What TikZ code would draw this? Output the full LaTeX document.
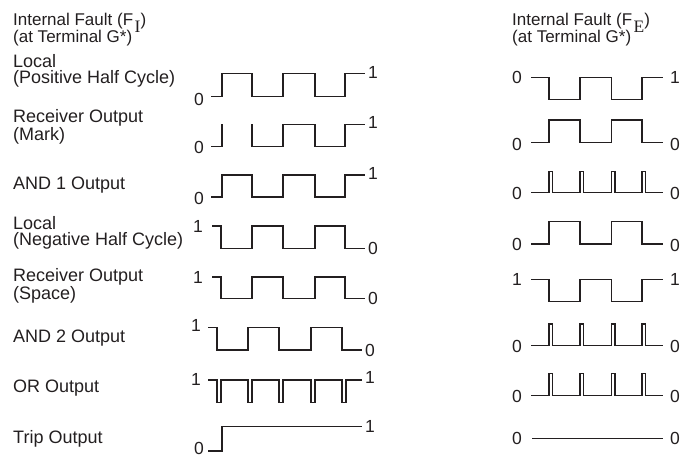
\documentclass[tikz,border=0pt]{standalone}
\usepackage{fontspec}
\setmainfont{Liberation Sans}
\newfontfamily\subserif{Liberation Serif}
\usetikzlibrary{positioning}
\definecolor{wInk}{HTML}{231F20}
\newcommand{\faultsub}[1]{\kern1.5pt\raisebox{-6.5pt}[0pt][0pt]{\subserif\fontsize{17.5}{17.5}\selectfont #1}}

\begin{document}
\begin{tikzpicture}[x=1pt, y=-1pt,
    wave/.style={draw=wInk, line width=1.4pt},
    headtext/.style={anchor=north west, align=left, inner sep=0pt, text=wInk, font=\fontsize{17}{16.5}\selectfont},
    rowtext/.style={anchor=north west, align=left, inner sep=0pt, text=wInk, font=\fontsize{18}{16.5}\selectfont},
    lvl/.style={inner sep=0pt, text=wInk, font=\fontsize{17.5}{17.5}\selectfont}]
  \useasboundingbox (0,0) rectangle (683,458);

  % headings
  \node[headtext] (headInt) at (13,13) {Internal Fault (F\faultsub{I})\\(at Terminal G*)};
  \node[headtext] (headExt) at (512,13) {Internal Fault (F\faultsub{E})\\(at Terminal G*)};

  % signal names
  \node[rowtext] (lblLocalPos) at (13,54) {Local\\(Positive Half Cycle)};
  \node[rowtext] (lblMark) at (13,109.5) {Receiver Output\\(Mark)};
  \node[rowtext] (lblAndOne) at (13,177) {AND 1 Output};
  \node[rowtext] (lblLocalNeg) at (13,216) {Local\\(Negative Half Cycle)};
  \node[rowtext] (lblSpace) at (13,268) {Receiver Output\\(Space)};
  \node[rowtext] (lblAndTwo) at (13,329.5) {AND 2 Output};
  \node[rowtext] (lblOr) at (13,379.5) {OR Output};
  \node[rowtext] (lblTrip) at (13,430.5) {Trip Output};

  % internal fault waveforms
  \draw[wave] (211,96.5) -| (222,73.5) -| (252,96.5) -| (283,73.5) -| (315,96.5) -| (345,73.5) -- (365,73.5);
  \draw[wave] (211,146.5) -| (222,124.3);
  \draw[wave] (252,124.3) -- (252,146.5) -| (283,124.3) -| (315,146.5) -| (345,124.3) -- (365,124.3);
  \draw[wave] (211,197) -| (222,175) -| (252,197) -| (283,175) -| (315,197) -| (345,175) -- (365,175);
  \draw[wave] (212,226) -| (221,248.3) -| (252,226) -| (283,248.3) -| (315,226) -| (345,248.3) -- (365,248.3);
  \draw[wave] (212,277) -| (221,298.5) -| (252,277) -| (283,298.5) -| (315,277) -| (345,298.5) -- (365,298.5);
  \draw[wave] (208,327.3) -| (217,350) -| (248,327.3) -| (279,350) -| (311,327.3) -| (342,350) -- (362,350);
  \draw[wave] (208,380) foreach \x in {217,248,279,311,342} {
      -- (\x,380) -- (\x,402.7) -- ({\x+4},402.7) -- ({\x+4},380)} -- (362,380);
  \draw[wave] (208,451) -| (222,426.7) -- (362,426.7);

  % internal fault levels
  \node[lvl, anchor=east] (inA0) at (204,99.5) {0};
  \node[lvl, anchor=west] (inA1) at (368,72) {1};
  \node[lvl, anchor=east] (inB0) at (204,147.5) {0};
  \node[lvl, anchor=west] (inB1) at (368,122) {1};
  \node[lvl, anchor=east] (inC0) at (204,198.5) {0};
  \node[lvl, anchor=west] (inC1) at (368,173) {1};
  \node[lvl, anchor=east] (inD1) at (203,226.5) {1};
  \node[lvl, anchor=west] (inD0) at (368,248) {0};
  \node[lvl, anchor=east] (inE1) at (203,277) {1};
  \node[lvl, anchor=west] (inE0) at (368,298.5) {0};
  \node[lvl, anchor=east] (inF1) at (201,325) {1};
  \node[lvl, anchor=west] (inF0) at (365,350) {0};
  \node[lvl, anchor=east] (inG1) at (201,379) {1};
  \node[lvl, anchor=west] (inG1r) at (365,377) {1};
  \node[lvl, anchor=east] (inH0) at (204,448.5) {0};
  \node[lvl, anchor=west] (inH1) at (365,426) {1};

  % external fault waveforms
  \draw[wave] (531,77.3) -| (549,99.3) -| (580,77.3) -| (611.5,99.3) -| (642,77.3) -- (663,77.3);
  \draw[wave] (531,142.7) -| (549,120) -| (580,142.7) -| (611.5,120) -| (642,142.7) -- (663,142.7);
  \draw[wave] (531,192.7) foreach \x in {549,580,611.5,642} {
      -- (\x,192.7) -- (\x,171.7) -- ({\x+3.5},171.7) -- ({\x+3.5},192.7)} -- (663,192.7);
  \draw[wave] (531,244) -| (549,221.7) -| (580,244) -| (611.5,221.7) -| (642,244) -- (663,244);
  \draw[wave] (531,279.3) -| (549,301.7) -| (580,279.3) -| (611.5,301.7) -| (642,279.3) -- (663,279.3);
  \draw[wave] (531,345.5) foreach \x in {549,580,611.5,642} {
      -- (\x,345.5) -- (\x,324) -- ({\x+3.5},324) -- ({\x+3.5},345.5)} -- (663,345.5);
  \draw[wave] (531,395.7) foreach \x in {549,580,611.5,642} {
      -- (\x,395.7) -- (\x,373.3) -- ({\x+3.5},373.3) -- ({\x+3.5},395.7)} -- (663,395.7);
  \draw[wave] (532,438.3) -- (663,438.3);

  % external fault levels
  \node[lvl, anchor=east] (exA0) at (522,77) {0};
  \node[lvl, anchor=west] (exA1) at (670,77) {1};
  \node[lvl, anchor=east] (exB0) at (522,144) {0};
  \node[lvl, anchor=west] (exB0r) at (670,144) {0};
  \node[lvl, anchor=east] (exC0) at (522,193) {0};
  \node[lvl, anchor=west] (exC0r) at (670,193) {0};
  \node[lvl, anchor=east] (exD0) at (522,244.5) {0};
  \node[lvl, anchor=west] (exD0r) at (670,245) {0};
  \node[lvl, anchor=east] (exE1) at (522,279.5) {1};
  \node[lvl, anchor=west] (exE1r) at (670,279.5) {1};
  \node[lvl, anchor=east] (exF0) at (522,346) {0};
  \node[lvl, anchor=west] (exF0r) at (670,346) {0};
  \node[lvl, anchor=east] (exG0) at (522,396.5) {0};
  \node[lvl, anchor=west] (exG0r) at (670,396) {0};
  \node[lvl, anchor=east] (exH0) at (522,438.5) {0};
  \node[lvl, anchor=west] (exH0r) at (670,438.5) {0};
\end{tikzpicture}
\end{document}
